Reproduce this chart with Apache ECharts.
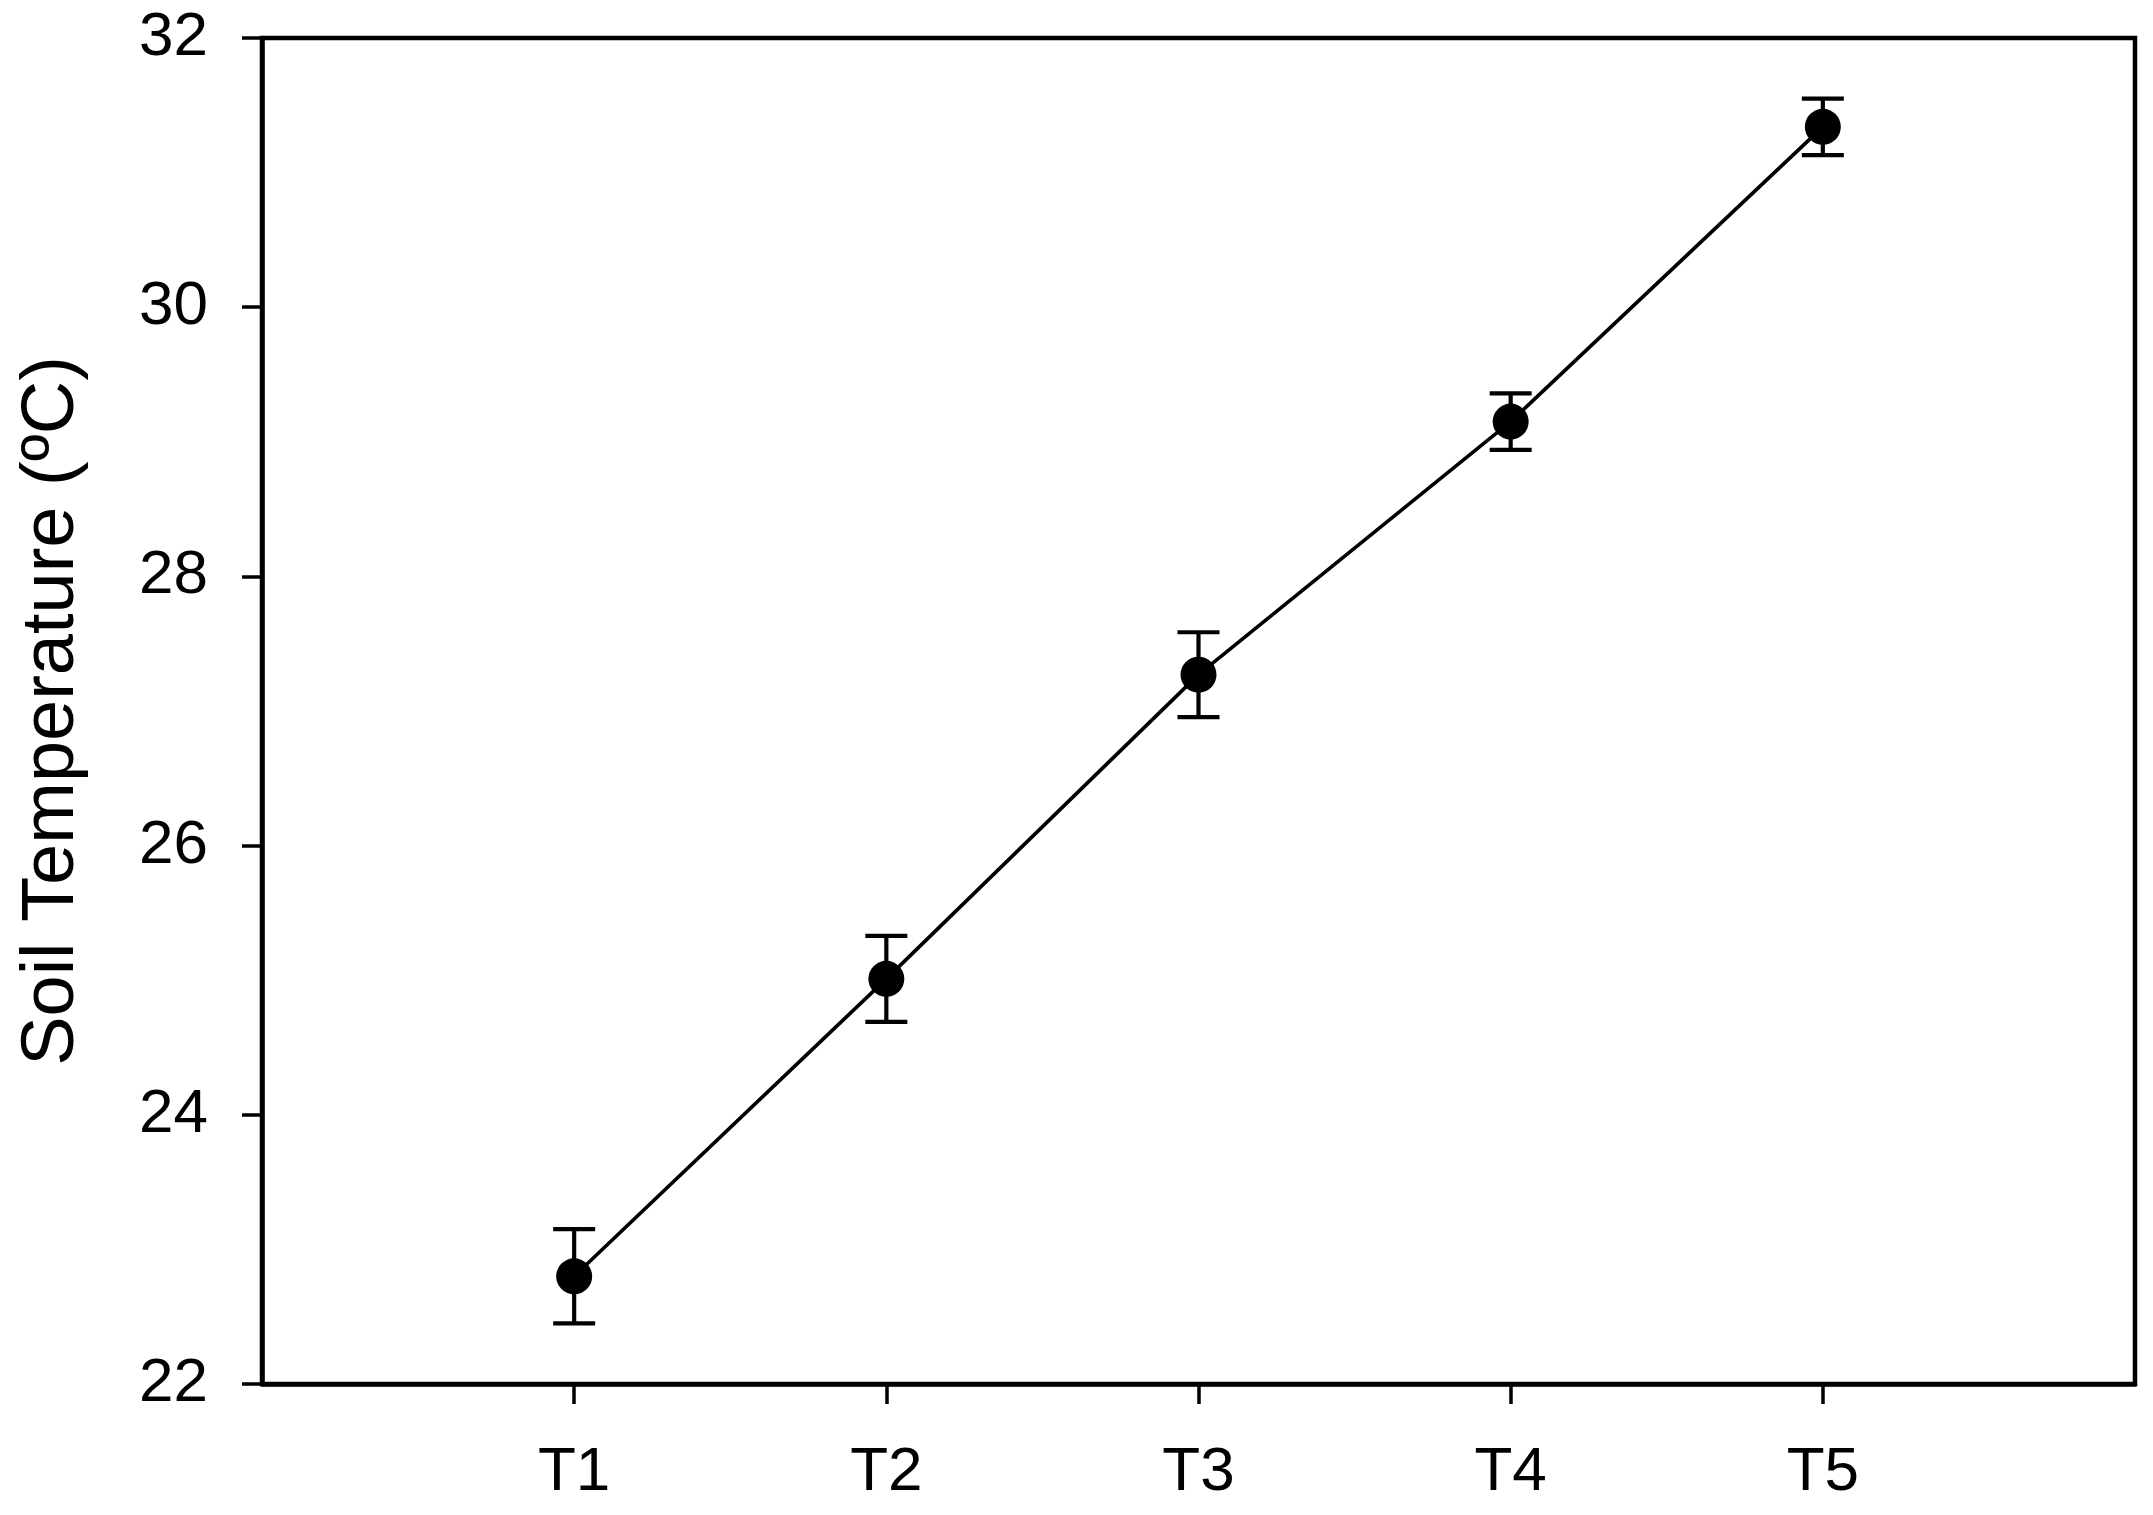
<!DOCTYPE html>
<html>
<head>
<meta charset="utf-8">
<script src="https://cdn.jsdelivr.net/npm/echarts@6/dist/echarts.min.js"></script>
<style>
html,body{margin:0;padding:0;background:#fff;}
#chart{width:2153px;height:1515px;}
</style>
</head>
<body>
<div id="chart"></div>
<script>
// ---- data ----
var categories = ['T1', 'T2', 'T3', 'T4', 'T5'];
var temperature = [22.80, 25.01, 27.27, 29.15, 31.34];
var errors = [0.35, 0.32, 0.315, 0.21, 0.21];
var yTicks = [22, 24, 26, 28, 30, 32];
var yTitle = 'Soil Temperature (ºC)';

var FONT = '"Liberation Sans", Arial, Helvetica, sans-serif';
var axisCats = [''].concat(categories).concat(['']);

var lineData = categories.map(function (c, i) { return [c, temperature[i]]; });
var errData = categories.map(function (c, i) { return [c, temperature[i] - errors[i], temperature[i] + errors[i]]; });

var chart = echarts.init(document.getElementById('chart'));
chart.setOption({
  animation: false,
  backgroundColor: '#fff',
  grid: {
    left: 262, right: 18, top: 38, bottom: 131,
    show: true, borderColor: '#000', borderWidth: 4.5, backgroundColor: 'transparent'
  },
  xAxis: {
    type: 'category',
    data: axisCats,
    boundaryGap: false,
    axisLine: { lineStyle: { color: '#000', width: 4.5 } },
    axisTick: {
      show: true, inside: false, length: 20, alignWithLabel: true,
      interval: function (idx, val) { return val !== ''; },
      lineStyle: { color: '#000', width: 3.5 }
    },
    axisLabel: {
      interval: 0, margin: 58, color: '#000', fontSize: 62, fontFamily: FONT
    },
    splitLine: { show: false }
  },
  yAxis: {
    type: 'value',
    min: yTicks[0], max: yTicks[yTicks.length - 1], interval: 2,
    name: yTitle,
    nameLocation: 'middle',
    nameGap: 172,
    nameRotate: 90,
    nameTextStyle: { color: '#000', fontSize: 74, fontFamily: FONT },
    axisLine: { show: true, lineStyle: { color: '#000', width: 4.5 } },
    axisTick: { show: true, inside: false, length: 20, lineStyle: { color: '#000', width: 3.5 } },
    axisLabel: { margin: 54, color: '#000', fontSize: 62, fontFamily: FONT },
    splitLine: { show: false }
  },
  series: [
    {
      type: 'custom',
      data: errData,
      z: 2,
      renderItem: function (params, api) {
        var lo = api.coord([api.value(0), api.value(1)]);
        var hi = api.coord([api.value(0), api.value(2)]);
        var hw = 21;
        var st = { stroke: '#000', lineWidth: 4.2 };
        return {
          type: 'group',
          children: [
            { type: 'line', shape: { x1: hi[0], y1: hi[1], x2: lo[0], y2: lo[1] }, style: st },
            { type: 'line', shape: { x1: hi[0] - hw, y1: hi[1], x2: hi[0] + hw, y2: hi[1] }, style: st },
            { type: 'line', shape: { x1: lo[0] - hw, y1: lo[1], x2: lo[0] + hw, y2: lo[1] }, style: st }
          ]
        };
      }
    },
    {
      type: 'line',
      data: lineData,
      z: 3,
      symbol: 'circle',
      symbolSize: 36,
      itemStyle: { color: '#000', borderWidth: 0 },
      lineStyle: { color: '#000', width: 3.6 }
    }
  ]
});
</script>
</body>
</html>
